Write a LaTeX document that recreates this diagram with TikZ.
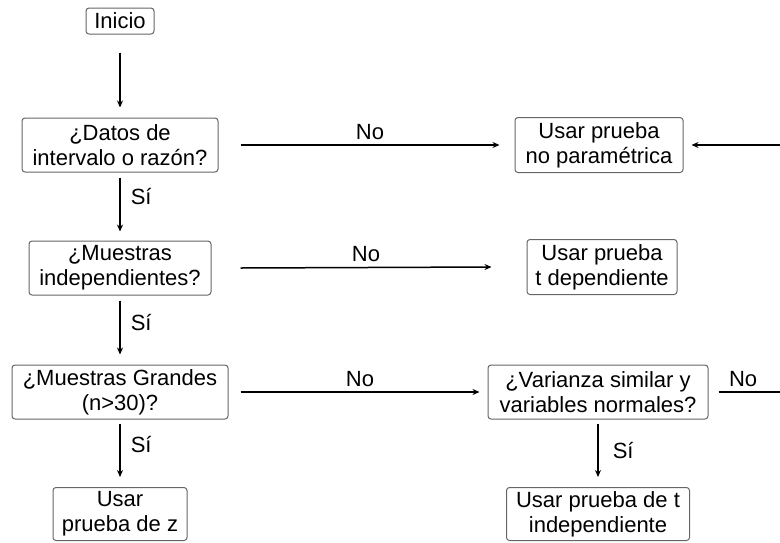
\documentclass[tikz,border=0pt]{standalone}
\usepackage{fontspec}
\setmainfont{Liberation Sans}
\usetikzlibrary{arrows.meta}
\begin{document}
\begin{tikzpicture}[x=1pt,y=-1pt,
  box/.style={draw=black!60, line width=1pt, rounded corners=3pt, align=center, inner sep=0pt,
    font=\fontsize{22}{25}\selectfont},
  conn/.style={line width=1.5pt, -{Stealth[length=7pt,width=6pt]}},
  plain/.style={line width=1.5pt},
  lbl/.style={font=\fontsize{22}{24}\selectfont, inner sep=0pt}]
\useasboundingbox (0,0) rectangle (780,542);
\node[box, minimum width=68pt, minimum height=26pt] (ini) at (120,21) {Inicio};
\node[box, minimum width=196pt, minimum height=54pt] (dat) at (120,145) {¿Datos de\\intervalo o razón?};
\node[box, minimum width=168pt, minimum height=55pt] (np) at (599,145) {Usar prueba\\no paramétrica};
\node[box, minimum width=182pt, minimum height=54pt] (ind) at (120,268) {¿Muestras\\independientes?};
\node[box, minimum width=150pt, minimum height=55pt] (td) at (602,267) {Usar prueba\\t dependiente};
\node[box, minimum width=216pt, minimum height=54pt] (gr) at (120,392) {¿Muestras Grandes\\(n>30)?};
\node[box, minimum width=220pt, minimum height=54pt] (var) at (598,392) {¿Varianza similar y\\variables normales?};
\node[box, minimum width=134pt, minimum height=53pt] (z) at (120,514) {Usar\\prueba de z};
\node[box, minimum width=183pt, minimum height=53pt] (ti) at (598,514) {Usar prueba de t\\independiente};
\coordinate (eA) at (780,145);
\coordinate (eB) at (780,392);
% vertical arrows
\draw[conn] ([yshift=-18pt]ini.south) -- ([yshift=10pt]dat.north);
\draw[conn] ([yshift=-5pt]dat.south) -- node[lbl, right=10pt, pos=0.35] {Sí} ([yshift=9pt]ind.north);
\draw[conn] ([yshift=-5pt]ind.south) -- node[lbl, right=10pt, pos=0.4] {Sí} ([yshift=10pt]gr.north);
\draw[conn] ([yshift=-4pt]gr.south) -- node[lbl, right=10pt, pos=0.4] {Sí} ([yshift=10pt]z.north);
\draw[conn] ([yshift=-4pt]var.south) -- node[lbl, right=14pt] {Sí} ([yshift=10pt]ti.north);
% horizontal arrows
\draw[conn] ([xshift=22pt]dat.east) -- node[lbl, above=5pt] {No} ([xshift=-15pt]np.west);
\draw[conn] ([xshift=29pt]ind.east) -- node[lbl, above=5pt] {No} ([xshift=-35pt]td.west);
\draw[conn] ([xshift=12pt]gr.east) -- node[lbl, above=5pt] {No} ([xshift=-8pt]var.west);
\draw[conn] (eA) -- ([xshift=8pt]np.east);
\draw[plain] ([xshift=10pt]var.east) -- node[lbl, above=5pt, pos=0.4] {No} (eB);
\end{tikzpicture}
\end{document}
